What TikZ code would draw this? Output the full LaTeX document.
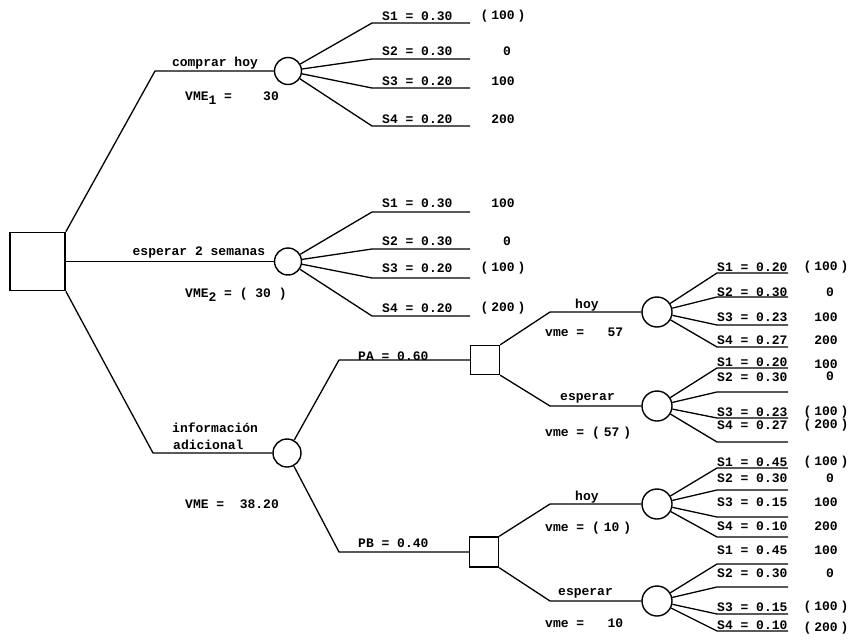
\documentclass[tikz,border=0pt]{standalone}
\usepackage{fontspec}
\newfontfamily\tw{Liberation Mono}
\newcommand\pv[1]{(\kern3pt#1\kern3pt)}
\newcommand\pp[1]{(\kern4pt#1\kern4pt)}
\newcommand\subidx[1]{\raisebox{-0.35em}{#1}}
\tikzset{
  txt/.style={font=\tw\bfseries\fontsize{13}{15}\selectfont, inner sep=0pt},
  lbl/.style={txt, anchor=west},
  val/.style={txt, anchor=center},
  chance/.style={circle, draw, line width=1.4pt, inner sep=0pt},
  decision/.style={rectangle, draw, line width=1.4pt, inner sep=0pt},
  br/.style={line width=1.3pt, line join=round},
}
\begin{document}
\begin{tikzpicture}[x=1pt,y=-1pt]
\useasboundingbox (0,0) rectangle (860,640);

% decision and chance nodes
\node[decision, line width=1.8pt, minimum width=55pt, minimum height=58pt] (root) at (37.5,261.5) {};
\node[chance, minimum size=27pt] (c1) at (288,71) {};
\node[chance, minimum size=27pt] (c2) at (288,261.5) {};
\node[chance, minimum size=28pt] (c3) at (287,453) {};
\node[decision, minimum width=29pt, minimum height=29pt] (sA) at (485,360) {};
\node[decision, minimum width=29pt, minimum height=30pt] (sB) at (484,552) {};
\node[chance, minimum size=30pt] (cA1) at (657,312) {};
\node[chance, minimum size=30pt] (cA2) at (657,406) {};
\node[chance, minimum size=30pt] (cB1) at (657,504) {};
\node[chance, minimum size=30pt] (cB2) at (657,601) {};

% main connectors
\coordinate (k1) at (155,71);
\coordinate (k3) at (153,453);
\draw[br] (root.north east) -- (k1) -- (c1);
\draw[br] (root.east) -- (c2);
\draw[br] (root.south east) -- (k3) -- (c3);
\coordinate (kA) at (339,360);
\coordinate (kB) at (339,552);
\draw[br] (c3) -- (kA) -- (sA);
\draw[br] (c3) -- (kB) -- (sB);
\coordinate (kA1) at (550,312);
\coordinate (kA2) at (550,406);
\coordinate (kB1) at (550,504);
\coordinate (kB2) at (550,601);
\draw[br] (sA.north east) -- (kA1) -- (cA1);
\draw[br] (sA.south east) -- (kA2) -- (cA2);
\draw[br] (sB.north east) -- (kB1) -- (cB1);
\draw[br] (sB.south east) -- (kB2) -- (cB2);

% outcome fans
\foreach \c/\xs/\xe/\ya/\yb/\yc/\yd in {c1/372/470/23/59/88/126, c2/372/470/212/249/278/316, cA1/717/788/273/297/325/347, cA2/717/788/368/392/418/442, cB1/717/788/468/490/517/537, cB2/717/788/564/587/614/631}{
  \foreach \i/\y in {1/\ya,2/\yb,3/\yc,4/\yd}{
    \coordinate (\c s\i) at (\xs,\y);
    \coordinate (\c e\i) at (\xe,\y);
    \draw[br] (\c) -- (\c s\i) -- (\c e\i);
  }
}

% branch labels
\node[val] (tcomprar) at (215,63) {comprar hoy};
\node[txt, anchor=base west] (tvme1) at (185,100) {VME\subidx{1} =~~~~30};
\node[val] (tesperar) at (199,252) {esperar 2 semanas};
\node[txt, anchor=base west] (tvme2) at (185,297) {VME\subidx{2} = (~30~)};
\node[lbl] (tinfo1) at (172,428) {información};
\node[lbl] (tinfo2) at (173,445) {adicional};
\node[lbl] (tvme3) at (185,504) {VME =~~38.20};
\node[lbl] (tpa) at (358,356) {PA = 0.60};
\node[lbl] (tpb) at (358,543) {PB = 0.40};
\node[lbl] (thoyA) at (575,305) {hoy};
\node[lbl] (tvmeA1) at (545,332) {vme =~~~57};
\node[lbl] (tespA) at (560,398) {esperar};
\node[lbl] (tvmeA2) at (545,433) {vme = \pp{57}};
\node[lbl] (thoyB) at (575,497) {hoy};
\node[lbl] (tvmeB1) at (545,528) {vme = \pp{10}};
\node[lbl] (tespB) at (558,593) {esperar};
\node[lbl] (tvmeB2) at (545,623) {vme =~~~10};

% fan c1
\node[lbl] (l11) at (382,16) {S1 = 0.30};
\node[lbl] (l12) at (382,51) {S2 = 0.30};
\node[lbl] (l13) at (382,81) {S3 = 0.20};
\node[lbl] (l14) at (382,119) {S4 = 0.20};
\node[val] (v11) at (503,16) {\pv{100}};
\node[val] (v12) at (507,51) {0};
\node[val] (v13) at (503,81) {100};
\node[val] (v14) at (503,119) {200};
% fan c2
\node[lbl] (l21) at (382,203) {S1 = 0.30};
\node[lbl] (l22) at (382,241) {S2 = 0.30};
\node[lbl] (l23) at (382,268) {S3 = 0.20};
\node[lbl] (l24) at (382,308) {S4 = 0.20};
\node[val] (v21) at (503,203) {100};
\node[val] (v22) at (507,241) {0};
\node[val] (v23) at (503,268) {\pv{100}};
\node[val] (v24) at (503,308) {\pv{200}};
% fan cA1
\node[lbl] (la1) at (717,267) {S1 = 0.20};
\node[lbl] (la2) at (717,292) {S2 = 0.30};
\node[lbl] (la3) at (717,317) {S3 = 0.23};
\node[lbl] (la4) at (717,340) {S4 = 0.27};
\node[val] (va1) at (826,267) {\pv{100}};
\node[val] (va2) at (830,292) {0};
\node[val] (va3) at (826,317) {100};
\node[val] (va4) at (826,340) {200};
% fan cA2
\node[lbl] (lb1) at (717,362) {S1 = 0.20};
\node[lbl] (lb2) at (717,377) {S2 = 0.30};
\node[lbl] (lb3) at (717,412) {S3 = 0.23};
\node[lbl] (lb4) at (717,425) {S4 = 0.27};
\node[val] (vb1) at (826,364) {100};
\node[val] (vb2) at (830,376) {0};
\node[val] (vb3) at (826,412) {\pv{100}};
\node[val] (vb4) at (826,425) {\pv{200}};
% fan cB1
\node[lbl] (lc1) at (717,462) {S1 = 0.45};
\node[lbl] (lc2) at (717,478) {S2 = 0.30};
\node[lbl] (lc3) at (717,502) {S3 = 0.15};
\node[lbl] (lc4) at (717,526) {S4 = 0.10};
\node[val] (vc1) at (826,462) {\pv{100}};
\node[val] (vc2) at (830,478) {0};
\node[val] (vc3) at (826,502) {100};
\node[val] (vc4) at (826,526) {200};
% fan cB2
\node[lbl] (ld1) at (717,550) {S1 = 0.45};
\node[lbl] (ld2) at (717,573) {S2 = 0.30};
\node[lbl] (ld3) at (717,607) {S3 = 0.15};
\node[lbl] (ld4) at (717,625) {S4 = 0.10};
\node[val] (vd1) at (826,550) {100};
\node[val] (vd2) at (830,573) {0};
\node[val] (vd3) at (826,607) {\pv{100}};
\node[val] (vd4) at (826,628) {\pv{200}};
\end{tikzpicture}
\end{document}
